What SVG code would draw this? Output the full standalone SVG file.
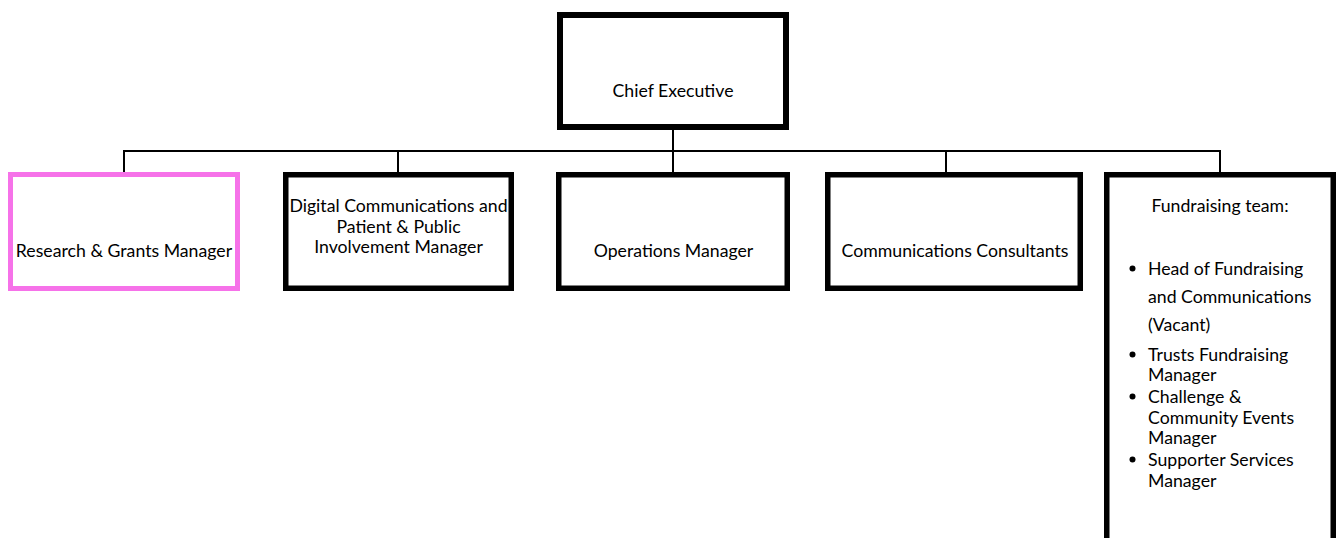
<svg xmlns="http://www.w3.org/2000/svg" width="1336" height="538" viewBox="0 0 1336 538">
  <style>
    .box { fill: #ffffff; stroke: #000000; stroke-width: 5.5; }
    .box-hl { fill: #ffffff; stroke: #f672e9; stroke-width: 5; }
    .conn { fill: none; stroke: #000000; stroke-width: 2; }
    .lbl { font-family: Lato, "Open Sans", sans-serif; font-size: 17.7px; fill: #000000; }
    .mid { text-anchor: middle; }
  </style>
  <rect width="1336" height="538" fill="#ffffff"/>

  <g id="connectors">
    <line class="conn" x1="673" y1="130" x2="673" y2="151"/>
    <line class="conn" x1="123" y1="151" x2="1221" y2="151"/>
    <line class="conn" x1="124" y1="151" x2="124" y2="172"/>
    <line class="conn" x1="398" y1="151" x2="398" y2="172"/>
    <line class="conn" x1="673" y1="151" x2="673" y2="172"/>
    <line class="conn" x1="946" y1="151" x2="946" y2="172"/>
    <line class="conn" x1="1220" y1="151" x2="1220" y2="172"/>
  </g>

  <g id="chief-executive">
    <rect class="box" x="560" y="15" width="226" height="112" style="stroke-width:6"/>
    <text class="lbl mid" x="673" y="97">Chief Executive</text>
  </g>

  <g id="research-grants">
    <rect class="box-hl" x="10.5" y="174.5" width="227" height="114"/>
    <text class="lbl mid" x="124" y="257">Research &amp; Grants Manager</text>
  </g>

  <g id="digital-communications">
    <rect class="box" x="285.75" y="174.75" width="225.5" height="113.5"/>
    <text class="lbl mid" x="398.5" y="212">Digital Communications and</text>
    <text class="lbl mid" x="398.5" y="232.5">Patient &amp; Public</text>
    <text class="lbl mid" x="398.5" y="253">Involvement Manager</text>
  </g>

  <g id="operations">
    <rect class="box" x="558.75" y="174.75" width="228.5" height="113.5"/>
    <text class="lbl mid" x="673.5" y="257">Operations Manager</text>
  </g>

  <g id="communications-consultants">
    <rect class="box" x="827.75" y="174.75" width="252.5" height="113.5"/>
    <text class="lbl mid" x="955" y="257">Communications Consultants</text>
  </g>

  <g id="fundraising-team">
    <rect class="box" x="1106.75" y="174.75" width="226.5" height="400"/>
    <text class="lbl mid" x="1220" y="212">Fundraising team:</text>
    <g fill="#000000">
      <circle cx="1132.5" cy="268.5" r="3"/>
      <circle cx="1132.5" cy="354.5" r="3"/>
      <circle cx="1132.5" cy="396.5" r="3"/>
      <circle cx="1132.5" cy="459.5" r="3"/>
    </g>
    <text class="lbl" x="1148">
      <tspan x="1148" y="275">Head of Fundraising</tspan>
      <tspan x="1148" y="303">and Communications</tspan>
      <tspan x="1148" y="330.5">(Vacant)</tspan>
      <tspan x="1148" y="361">Trusts Fundraising</tspan>
      <tspan x="1148" y="381">Manager</tspan>
      <tspan x="1148" y="403">Challenge &amp;</tspan>
      <tspan x="1148" y="423.5">Community Events</tspan>
      <tspan x="1148" y="444">Manager</tspan>
      <tspan x="1148" y="466">Supporter Services</tspan>
      <tspan x="1148" y="486.5">Manager</tspan>
    </text>
  </g>
</svg>
